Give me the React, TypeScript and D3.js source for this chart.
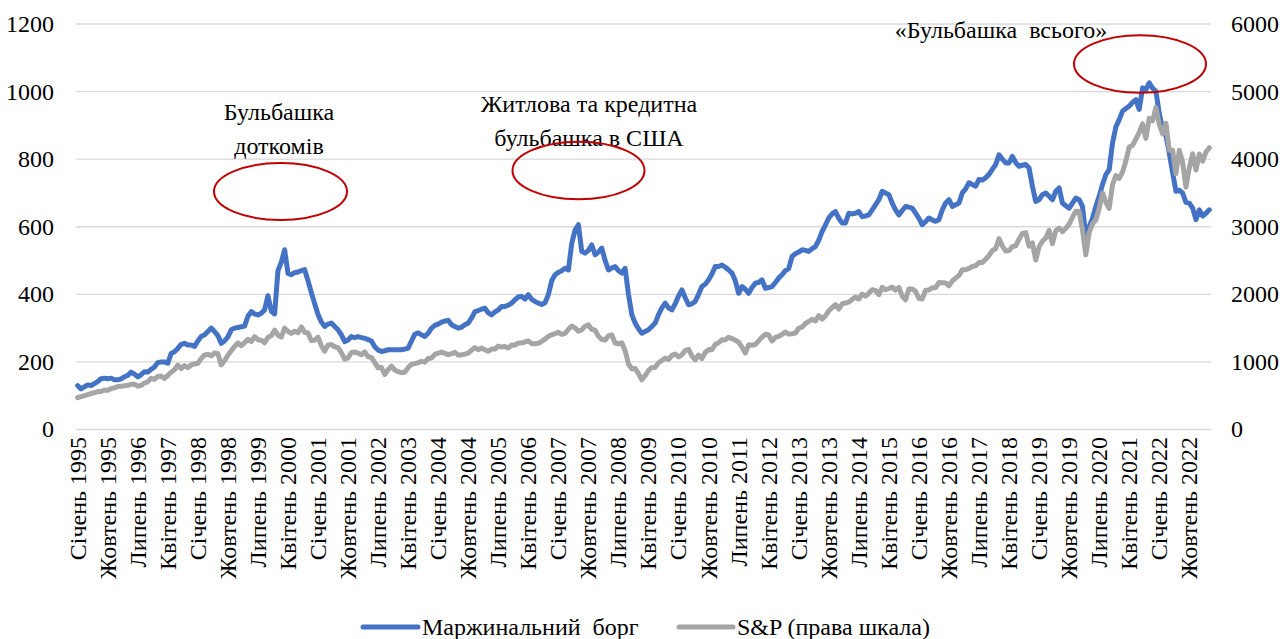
import * as d3 from 'd3';
import React from 'react';

// Маржинальний борг, млрд дол. (ліва шкала), щомісяця з січня 1995 по квітень 2023
const marginDebt: number[] = [
  // 1995
  130, 120, 126, 132, 130, 136, 142, 150, 152, 150, 152, 147,
  // 1996
  147, 150, 156, 160, 170, 164, 156, 162, 171, 170, 178, 185,
  // 1997
  198, 200, 200, 196, 225, 230, 240, 252, 255, 250, 250, 246,
  // 1998
  262, 275, 280, 290, 300, 290, 278, 255, 262, 274, 295, 300,
  // 1999
  302, 304, 306, 335, 349, 342, 339, 344, 354, 396, 350, 342,
  // 2000
  470, 495, 532, 462, 458, 464, 466, 470, 473, 440, 405, 372,
  // 2001
  340, 318, 305, 312, 315, 305, 295, 280, 260, 265, 275, 272,
  // 2002
  275, 272, 270, 266, 262, 245, 235, 231, 233, 236, 236, 236,
  // 2003
  236, 236, 238, 241, 262, 282, 286, 280, 275, 285, 300, 308,
  // 2004
  312, 318, 321, 323, 310, 305, 300, 303, 310, 315, 330, 349,
  // 2005
  352, 356, 359, 345, 339, 348, 354, 364, 364, 368, 374, 384,
  // 2006
  392, 394, 386, 399, 385, 379, 374, 370, 375, 399, 440, 458,
  // 2007
  465, 470, 477, 472, 550, 590, 606, 527, 522, 530, 546, 517,
  // 2008
  525, 537, 500, 472, 478, 482, 470, 463, 477, 400, 340, 315,
  // 2009
  298, 285, 290, 295, 305, 315, 340, 360, 374, 360, 354, 372,
  // 2010
  395, 413, 390, 369, 372, 379, 400, 423, 430, 443, 460, 482,
  // 2011
  482, 487, 480, 472, 463, 440, 403, 423, 415, 403, 420, 433,
  // 2012
  435, 443, 418, 420, 423, 435, 448, 458, 470, 476, 512, 520,
  // 2013
  525, 532, 530, 527, 535, 541, 560, 586, 605, 626, 638, 645,
  // 2014
  625, 611, 611, 640, 638, 640, 645, 630, 632, 635, 650, 665,
  // 2015
  680, 705, 700, 695, 670, 650, 635, 648, 660, 658, 655, 640,
  // 2016
  625, 606, 615, 626, 620, 616, 621, 650, 670, 680, 660, 665,
  // 2017
  670, 700, 712, 730, 725, 720, 740, 738, 745, 755, 770, 784,
  // 2018
  813, 800, 789, 789, 808, 790, 779, 782, 784, 774, 720, 675,
  // 2019
  680, 695, 700, 690, 680, 705, 715, 670, 662, 655, 670, 685,
  // 2020
  680, 660, 572, 600, 625, 660, 690, 725, 754, 769, 848, 895,
  // 2021
  917, 942, 950, 957, 968, 976, 947, 1011, 1006, 1026, 1010, 1001,
  // 2022
  935, 890, 870, 818, 760, 705, 708, 700, 672, 670, 655, 621,
  // 2023
  650, 632, 640, 650,
];

// S&P 500 (права шкала), закриття місяця
const sp500: number[] = [
  470, 487, 501, 515, 533, 545, 562, 562, 584, 582, 605, 616,
  636, 640, 646, 654, 669, 671, 640, 652, 687, 705, 757, 741,
  786, 791, 757, 801, 848, 885, 954, 900, 947, 915, 955, 970,
  980, 1049, 1102, 1112, 1091, 1134, 1121, 957, 1017, 1099, 1164, 1229,
  1280, 1238, 1286, 1335, 1302, 1373, 1329, 1320, 1283, 1363, 1389, 1469,
  1395, 1366, 1499, 1452, 1421, 1455, 1431, 1518, 1437, 1429, 1315, 1320,
  1366, 1240, 1160, 1250, 1256, 1224, 1211, 1134, 1041, 1060, 1140, 1148,
  1130, 1107, 1147, 1077, 1067, 990, 912, 916, 815, 886, 936, 880,
  856, 841, 848, 917, 964, 975, 990, 1008, 996, 1051, 1058, 1112,
  1131, 1145, 1126, 1107, 1121, 1141, 1102, 1104, 1115, 1130, 1174, 1212,
  1181, 1204, 1181, 1157, 1192, 1191, 1234, 1220, 1229, 1207, 1250, 1248,
  1280, 1281, 1295, 1311, 1270, 1270, 1277, 1304, 1336, 1378, 1401, 1418,
  1438, 1407, 1421, 1482, 1531, 1503, 1455, 1474, 1527, 1549, 1481, 1468,
  1379, 1331, 1323, 1386, 1400, 1280, 1267, 1283, 1166, 969, 896, 903,
  826, 735, 798, 873, 919, 919, 988, 1021, 1057, 1036, 1096, 1115,
  1074, 1105, 1169, 1187, 1089, 1031, 1102, 1049, 1141, 1183, 1181, 1258,
  1286, 1327, 1326, 1364, 1345, 1321, 1292, 1219, 1131, 1253, 1247, 1258,
  1312, 1366, 1409, 1398, 1310, 1362, 1379, 1407, 1441, 1412, 1416, 1426,
  1498, 1515, 1569, 1598, 1631, 1606, 1686, 1633, 1682, 1757, 1806, 1848,
  1783, 1860, 1872, 1884, 1924, 1960, 1931, 2003, 1972, 2018, 2068, 2059,
  1995, 2105, 2068, 2086, 2107, 2063, 2104, 1972, 1920, 2079, 2080, 2044,
  1940, 1932, 2060, 2065, 2097, 2099, 2174, 2171, 2168, 2126, 2199, 2239,
  2279, 2364, 2363, 2384, 2412, 2423, 2470, 2472, 2519, 2575, 2648, 2674,
  2824, 2714, 2641, 2648, 2705, 2718, 2816, 2902, 2914, 2712, 2760, 2507,
  2704, 2785, 2834, 2946, 2752, 2942, 2980, 2927, 2977, 3038, 3141, 3231,
  3226, 2954, 2585, 2912, 3044, 3100, 3271, 3500, 3363, 3270, 3622, 3756,
  3714, 3811, 3973, 4181, 4204, 4298, 4395, 4523, 4308, 4605, 4567, 4766,
  4516, 4374, 4530, 4132, 4132, 3785, 4130, 3955, 3586, 3872, 4080, 3840,
  4077, 3970, 4109, 4169,
];

const tickLabels: string[] = [
  'Січень 1995', 'Жовтень 1995', 'Липень 1996', 'Квітень 1997', 'Січень 1998',
  'Жовтень 1998', 'Липень 1999', 'Квітень 2000', 'Січень 2001', 'Жовтень 2001',
  'Липень 2002', 'Квітень 2003', 'Січень 2004', 'Жовтень 2004', 'Липень 2005',
  'Квітень 2006', 'Січень 2007', 'Жовтень 2007', 'Липень 2008', 'Квітень 2009',
  'Січень 2010', 'Жовтень 2010', 'Липень 2011', 'Квітень 2012', 'Січень 2013',
  'Жовтень 2013', 'Липень 2014', 'Квітень 2015', 'Січень 2016', 'Жовтень 2016',
  'Липень 2017', 'Квітень 2018', 'Січень 2019', 'Жовтень 2019', 'Липень 2020',
  'Квітень 2021', 'Січень 2022', 'Жовтень 2022',
];
const tickStep = 9; // підпис кожні 9 місяців

const leftTicks = [0, 200, 400, 600, 800, 1000, 1200];
const rightTicks = [0, 1000, 2000, 3000, 4000, 5000, 6000];

const seriesNames = ['Маржинальний  борг', 'S&P (права шкала)'];

const annotations = [
  { lines: ['Бульбашка', 'доткомів'], x: 279, y: 120, ell: [280.5, 191.5, 66.5, 28.5] },
  { lines: ['Житлова та кредитна', 'бульбашка в США'], x: 589, y: 112, ell: [578.5, 170.5, 66, 28.8] },
  { lines: ['«Бульбашка  всього»'], x: 1001, y: 38, ell: [1140, 64, 66, 28.8] },
];

const W = 1282;
const H = 639;
const FONT = "'Liberation Serif', 'Times New Roman', 'DejaVu Serif', serif";
const BLUE = '#4472C4';
const GRAY = '#A5A5A5';

export default function App() {
  const idx = d3.range(marginDebt.length);
  const x = d3.scaleBand<number>().domain(idx).range([76, 1211]).padding(0);
  const cx = (i: number) => (x(i) as number) + x.bandwidth() / 2;
  const yL = d3.scaleLinear().domain([0, 1200]).range([429.5, 24]);
  const yR = d3.scaleLinear().domain([0, 6000]).range([429.5, 24]);

  const lineL = d3.line<number>().x((_, i) => cx(i)).y((d) => yL(d));
  const lineR = d3.line<number>().x((_, i) => cx(i)).y((d) => yR(d));

  const txt = { fontFamily: FONT, fontSize: 24, fill: '#000', whiteSpace: 'pre' } as React.CSSProperties;

  return (
    <div style={{ position: 'absolute', left: 0, top: 0 }}>
      <svg width={W} height={H} style={{ display: 'block', background: '#fff', fontFamily: FONT }}>
        {leftTicks.map((t) => (
          <line key={'g' + t} x1={76} x2={1211} y1={yL(t)} y2={yL(t)} stroke="#D9D9D9" strokeWidth={1.3} />
        ))}
        {leftTicks.map((t) => (
          <text key={'l' + t} x={54} y={yL(t)} dy="0.33em" textAnchor="end" style={txt}>
            {t}
          </text>
        ))}
        {rightTicks.map((t) => (
          <text key={'r' + t} x={1231} y={yR(t)} dy="0.33em" textAnchor="start" style={txt}>
            {t}
          </text>
        ))}
        {tickLabels.map((lab, k) => (
          <text
            key={'x' + k}
            transform={`translate(${cx(k * tickStep)},437) rotate(-90)`}
            dy="0.33em"
            textAnchor="end"
            style={txt}
          >
            {lab}
          </text>
        ))}
        <path d={lineL(marginDebt) || ''} fill="none" stroke={BLUE} strokeWidth={5} strokeLinejoin="round" strokeLinecap="round" />
        <path d={lineR(sp500) || ''} fill="none" stroke={GRAY} strokeWidth={5} strokeLinejoin="round" strokeLinecap="round" />
        {annotations.map((a, k) => (
          <g key={'a' + k}>
            {a.lines.map((ln, j) => (
              <text key={j} x={a.x} y={a.y + j * 34} textAnchor="middle" style={txt}>
                {ln}
              </text>
            ))}
            <ellipse cx={a.ell[0]} cy={a.ell[1]} rx={a.ell[2]} ry={a.ell[3]} fill="none" stroke="#C00000" strokeWidth={2} />
          </g>
        ))}
        <g>
          <line x1={363} x2={418} y1={627} y2={627} stroke={BLUE} strokeWidth={5} strokeLinecap="round" />
          <text x={422} y={635} style={txt}>{seriesNames[0]}</text>
          <line x1={679} x2={733} y1={627} y2={627} stroke={GRAY} strokeWidth={5} strokeLinecap="round" />
          <text x={737} y={635} style={txt}>{seriesNames[1]}</text>
        </g>
      </svg>
    </div>
  );
}
